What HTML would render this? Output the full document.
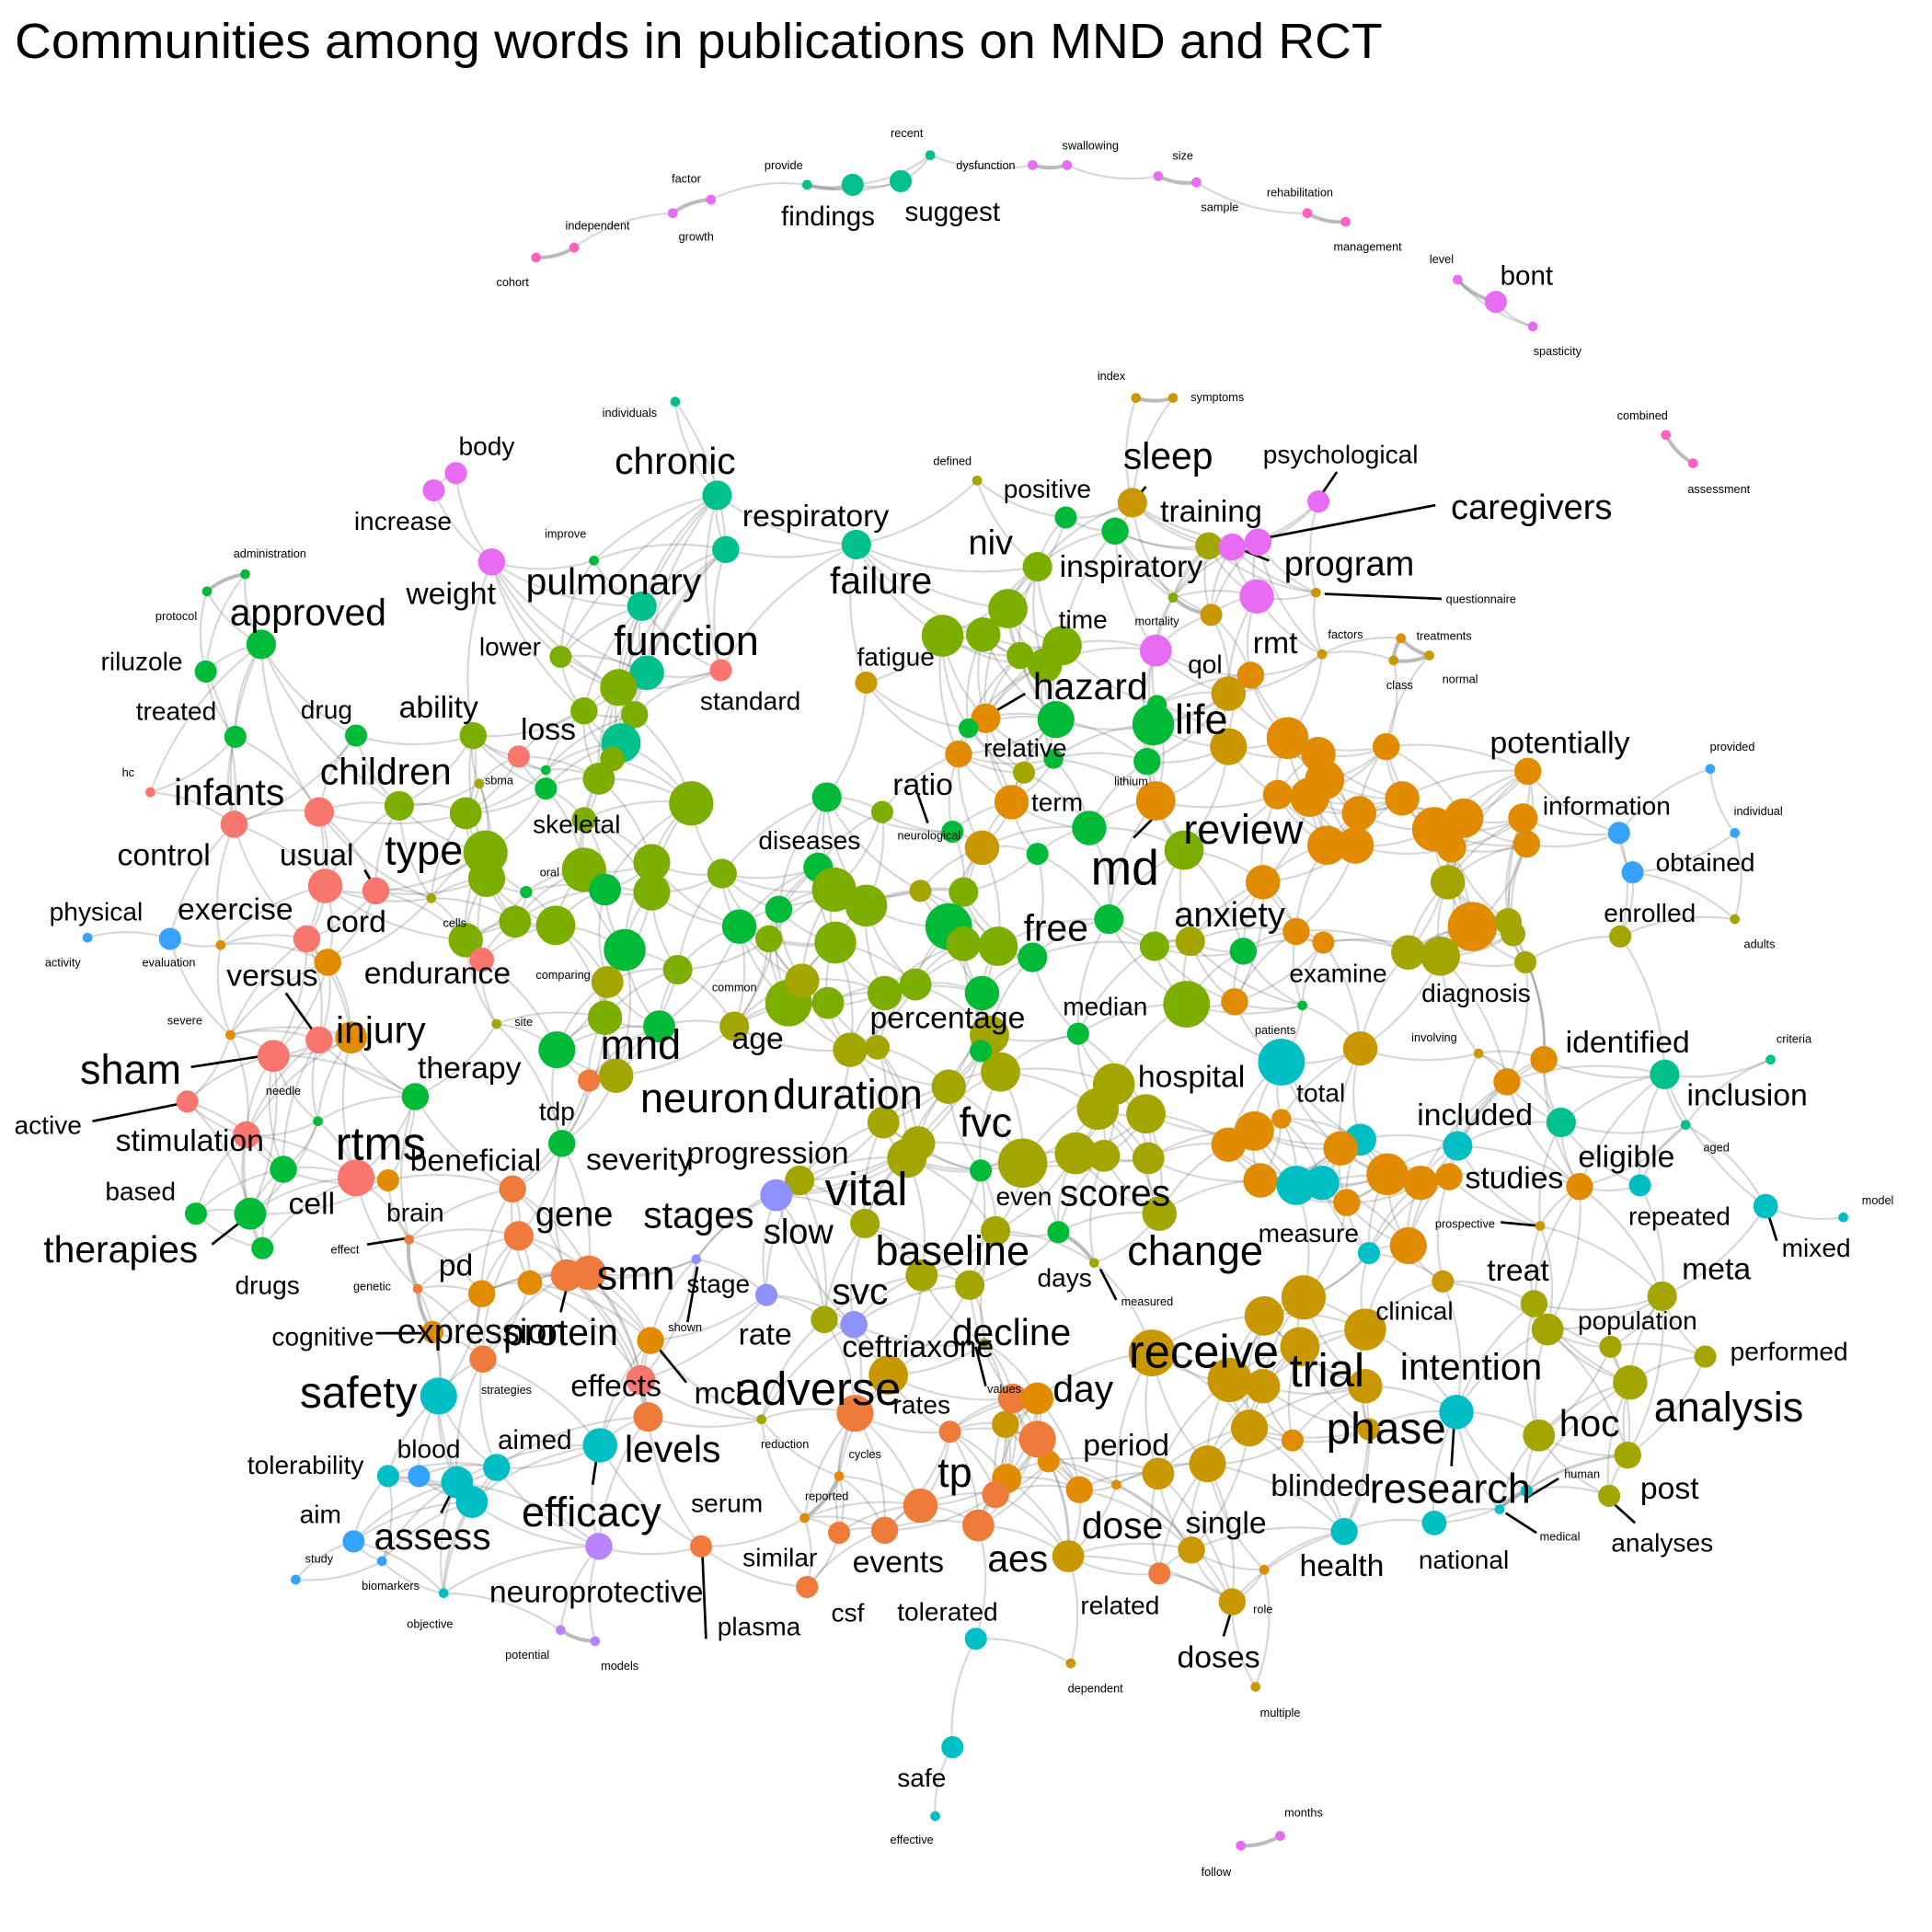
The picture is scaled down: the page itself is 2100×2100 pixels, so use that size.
<!DOCTYPE html>
<html><head><meta charset="utf-8"><style>
html,body{margin:0;padding:0;background:#fff}
svg{display:block}
text{font-family:"Liberation Sans",Arial,sans-serif;fill:#000}
</style></head><body>
<svg id="chart" width="2100" height="2100" viewBox="0 0 1568 1568" xmlns="http://www.w3.org/2000/svg">
<rect width="1568" height="1568" fill="#fff"/>
<text x="12" y="47" font-size="40" textLength="1110" lengthAdjust="spacingAndGlyphs">Communities among words in publications on MND and RCT</text>
<g id="edges"></g>
<g id="leaders"></g>
<g id="nodes"></g>
<g id="labels"></g>
</svg>
<script>
const palette = {s:"#F8766D",r:"#EE7A3C",o:"#E08B00",m:"#C99800",l:"#A3A500",y:"#7CAE00",g:"#00BA38",t:"#00C08B",c:"#00BFC4",b:"#35A2FF",u:"#8F91FF",p:"#B983FF",k:"#E76BF3",n:"#FF62BC"};
const nodeTable = [
[655,150,4,'t'],[692,150,9,'t'],[731,147,9,'t'],[755,126,4,'t'],
[577,162,4,'k'],[546,173,4,'k'],[435,209,4,'n'],[466,201,4,'n'],
[838,134,4,'k'],[866,134,4,'k'],[940,143,4,'k'],[971,148,4,'k'],[1061,173,4,'n'],[1092,180,4,'n'],
[1183,227,4,'k'],[1214,245,9,'k'],[1244,265,4,'k'],[922,323,4,'m'],[952,323,4,'m'],[1352,353,4,'n'],[1374,376,4,'n'],
[548,326,4,'t'],[370,384,9,'k'],[352,398,9,'k'],[399,456,11,'k'],[582,402,12,'t'],[589,446,11,'t'],[695,442,12,'t'],
[482,455,4,'g'],[521,492,12,'t'],[525,546,14,'t'],[199,466,4,'g'],[168,480,4,'g'],[212,523,12,'g'],[167,545,9,'g'],
[191,598,9,'g'],[289,597,9,'g'],[585,544,9,'s'],[703,554,9,'m'],[793,390,4,'l'],[865,420,9,'g'],[905,431,11,'g'],
[919,408,12,'m'],[842,460,12,'y'],[981,443,11,'l'],[1000,444,11,'k'],[1021,440,11,'k'],[1020,484,14,'k'],[1070,407,9,'k'],
[1068,481,4,'m'],[952,485,4,'y'],[983,499,9,'m'],[938,528,13,'k'],[1015,548,11,'o'],[1137,518,4,'o'],[1131,536,4,'m'],
[1160,532,4,'m'],[1073,531,4,'m'],
[765,516,17,'y'],[798,515,14,'y'],[818,494,16,'y'],[862,524,16,'y'],[828,532,11,'y'],[848,540,14,'y'],[857,584,15,'g'],
[936,588,17,'g'],[997,563,14,'m'],[800,583,12,'o'],[786,591,8,'g'],[778,612,11,'o'],[831,627,9,'l'],[821,651,14,'o'],
[938,650,16,'o'],[931,618,11,'g'],[939,572,8,'g'],[997,606,15,'m'],[1045,599,17,'o'],[1070,612,14,'o'],[1075,633,16,'o'],
[1037,645,12,'o'],[1063,647,16,'o'],[1125,606,11,'o'],[1103,660,14,'o'],[1138,648,14,'o'],[1077,686,16,'o'],[1100,686,15,'o'],
[1164,673,18,'o'],[1188,664,16,'o'],[1178,688,12,'o'],[1236,664,12,'o'],[1239,685,11,'o'],[1240,626,11,'o'],[1175,716,14,'l'],
[1195,752,20,'o'],[1224,748,11,'l'],[1228,758,10,'l'],[1143,773,14,'l'],[1169,776,16,'l'],[1238,781,9,'l'],[1052,756,11,'o'],
[1074,765,9,'o'],[1025,716,14,'o'],[961,690,16,'y'],[900,746,12,'g'],[884,672,14,'g'],[842,693,9,'g'],[855,616,8,'g'],
[797,688,14,'m'],[782,724,12,'y'],[747,723,9,'l'],[773,675,9,'g'],[716,659,9,'y'],[671,647,12,'g'],[561,652,18,'y'],
[474,665,10,'y'],[378,660,13,'y'],[324,654,12,'y'],[384,597,11,'y'],[421,614,9,'s'],[443,640,9,'g'],[455,533,9,'y'],
[474,577,11,'y'],[502,558,15,'y'],[515,580,11,'y'],[504,603,16,'t'],[497,616,10,'y'],[486,632,13,'y'],[394,692,18,'y'],
[395,713,15,'y'],[474,706,18,'y'],[491,722,13,'g'],[529,700,15,'y'],[529,724,15,'y'],[586,709,12,'y'],[664,704,12,'g'],
[677,722,18,'y'],[703,735,17,'y'],[632,738,11,'g'],[600,752,14,'g'],[624,762,11,'y'],[678,765,17,'y'],[770,752,19,'g'],
[782,766,14,'y'],[810,768,16,'y'],[838,777,12,'g'],[937,768,12,'y'],[966,764,12,'l'],[1009,772,11,'g'],[963,815,19,'y'],
[1002,813,11,'o'],[875,839,9,'g'],[797,806,14,'g'],[803,840,16,'l'],[743,799,13,'y'],[718,806,14,'y'],[640,814,19,'y'],
[651,796,14,'l'],[672,814,13,'y'],[596,833,12,'l'],[550,787,12,'y'],[507,771,17,'g'],[493,797,13,'l'],[491,826,14,'y'],
[535,833,13,'g'],[452,852,15,'g'],[418,748,13,'y'],[451,751,16,'y'],[378,763,14,'y'],[391,779,10,'s'],[427,724,5,'g'],
[350,729,4,'l'],[389,636,4,'l'],[443,625,4,'g'],
[1040,862,19,'c'],[1104,851,14,'m'],[1253,860,11,'o'],[1223,878,11,'o'],[1200,855,4,'m'],[1351,872,12,'t'],[1267,911,12,'t'],
[1437,860,4,'t'],[1368,913,4,'t'],[1183,930,12,'c'],[1104,925,13,'c'],[1040,908,8,'o'],[997,929,14,'o'],[1018,918,16,'o'],
[1023,958,14,'o'],[1052,962,16,'c'],[1073,960,14,'c'],[1088,932,14,'o'],[1093,976,11,'o'],[1126,953,17,'o'],[1153,960,14,'o'],
[1176,955,11,'o'],[1282,963,11,'o'],[1331,962,9,'c'],[1433,979,10,'c'],[1496,988,4,'c'],[1250,995,4,'m'],[1143,1011,15,'o'],
[1111,1017,9,'c'],[1171,1040,9,'m'],[1245,1058,11,'l'],[1256,1079,13,'l'],[1307,1093,9,'l'],[1349,1052,12,'l'],[1384,1101,9,'l'],
[1323,1122,14,'l'],[1249,1165,13,'l'],[1321,1181,11,'l'],[1306,1214,9,'l'],[1182,1146,14,'c'],[1239,1210,5,'c'],[1217,1225,4,'c'],
[1164,1236,10,'c'],[1091,1243,11,'c'],[1108,1079,17,'m'],[1058,1053,18,'m'],[1026,1068,16,'m'],[1055,1093,16,'m'],[998,1120,18,'m'],
[1025,1125,14,'m'],[1014,1159,15,'m'],[1049,1169,9,'o'],[1108,1125,14,'m'],[935,1098,19,'m'],[980,1188,15,'m'],[940,1196,13,'m'],
[967,1258,11,'m'],[1000,1300,11,'m'],[1026,1274,4,'o'],[1019,1369,4,'m'],[869,1350,4,'m'],[867,1263,13,'m'],[941,1277,9,'r'],
[876,1209,11,'o'],[851,1186,9,'o'],[817,1200,12,'o'],[808,1213,11,'r'],[816,1156,11,'m'],[842,1168,15,'r'],[822,1135,12,'r'],
[842,1135,13,'o'],[771,1162,9,'r'],[794,1238,13,'r'],[747,1222,14,'r'],[718,1242,11,'r'],[681,1244,9,'r'],[655,1288,9,'r'],
[694,1147,15,'r'],[721,1116,16,'m'],[799,1090,4,'l'],[888,1025,4,'l'],[787,1043,12,'l'],[748,1035,13,'l'],[808,999,12,'l'],
[859,1000,9,'g'],[830,944,20,'l'],[873,936,17,'l'],[896,938,13,'l'],[932,940,13,'l'],[941,985,14,'l'],[891,900,17,'l'],
[930,904,16,'l'],[904,880,17,'l'],[812,870,16,'l'],[770,882,14,'l'],[717,911,13,'l'],[736,940,16,'l'],[745,928,14,'l'],
[690,852,14,'l'],[712,850,10,'l'],[796,950,9,'g'],[702,993,12,'l'],[669,1071,11,'l'],[649,958,12,'l'],[630,970,13,'u'],
[693,1075,11,'u'],[622,1051,9,'u'],[565,1022,4,'u'],[528,1088,11,'o'],[520,1120,12,'s'],[526,1150,12,'r'],[460,1035,13,'r'],
[478,1033,14,'r'],[430,1041,10,'o'],[421,1003,12,'r'],[416,965,11,'r'],[391,1050,11,'o'],[392,1103,11,'r'],[315,958,9,'o'],
[332,1006,4,'r'],[339,1046,4,'r'],[351,1081,9,'o'],[289,956,15,'s'],[222,857,13,'s'],[259,844,11,'s'],[285,842,13,'o'],
[152,894,9,'s'],[200,921,11,'s'],[230,949,11,'g'],[203,985,13,'g'],[159,985,9,'g'],[213,1013,9,'g'],[258,910,4,'g'],
[337,890,11,'g'],[456,928,11,'g'],[478,877,9,'r'],[500,873,14,'l'],[249,762,11,'s'],[266,781,11,'o'],[264,719,14,'s'],
[305,723,11,'s'],[259,659,12,'s'],[190,669,11,'s'],[122,643,4,'s'],[138,762,9,'b'],[179,767,4,'o'],[71,761,4,'b'],
[187,840,4,'o'],[403,831,4,'l'],[356,1133,15,'c'],[315,1198,9,'c'],[340,1198,9,'b'],[371,1203,13,'c'],[383,1219,13,'c'],
[403,1191,11,'c'],[487,1173,14,'c'],[486,1255,11,'p'],[287,1251,9,'b'],[240,1282,4,'b'],[310,1267,4,'b'],[360,1293,4,'c'],
[455,1323,4,'p'],[483,1332,4,'p'],[569,1255,9,'r'],[653,1232,4,'o'],[681,1198,4,'o'],[618,1152,4,'l'],[792,1330,9,'c'],
[773,1418,9,'c'],[759,1474,4,'c'],[1007,1498,4,'k'],[1039,1490,4,'k'],[1315,760,9,'l'],[1408,746,4,'l'],[1314,676,9,'b'],
[1325,708,9,'b'],[1388,624,4,'b'],[1408,676,4,'b'],[1057,816,4,'g'],[796,853,9,'g'],[906,1205,4,'o'],[1111,1160,9,'m']
];
const nodeX = nodeTable.map(n=>n[0]);
const nodeY = nodeTable.map(n=>n[1]);
const nodeR = nodeTable.map(n=>n[2]);
const nodeC = nodeTable.map(n=>n[3]);
const labelText = ["findings","suggest","recent","provide","factor","growth","independent","cohort","dysfunction","swallowing","size","sample","rehabilitation","management","level","bont","spasticity","index","symptoms","combined","assessment","individuals","body","chronic","defined","positive","sleep","psychological","increase","respiratory","training","caregivers","improve","administration","niv","inspiratory","program","weight","pulmonary","failure","questionnaire","approved","protocol","time","mortality","lower","function","fatigue","rmt","factors","treatments","riluzole","qol","class","normal","standard","treated","drug","ability","hazard","life","loss","potentially","relative","provided","hc","children","sbma","lithium","ratio","infants","term","information","individual","skeletal","diseases","neurological","review","control","usual","type","obtained","md","oral","physical","exercise","cord","cells","free","anxiety","enrolled","activity","evaluation","versus","endurance","comparing","examine","diagnosis","adults","common","median","percentage","site","severe","injury","mnd","age","patients","involving","identified","criteria","sham","therapy","hospital","needle","neuron","duration","total","inclusion","active","stimulation","tdp","fvc","included","rtms","beneficial","severity","progression","eligible","aged","vital","studies","based","even","scores","cell","brain","gene","stages","slow","model","repeated","therapies","prospective","measure","change","mixed","effect","baseline","pd","smn","stage","days","treat","meta","drugs","genetic","svc","measured","clinical","population","cognitive","expression","protein","shown","rate","ceftriaxone","decline","receive","trial","intention","performed","safety","strategies","effects","mcl","adverse","rates","values","day","analysis","phase","hoc","tolerability","blood","aimed","levels","reduction","cycles","tp","period","blinded","research","human","post","reported","serum","efficacy","aim","dose","single","assess","medical","analyses","study","similar","events","aes","health","national","biomarkers","neuroprotective","related","role","csf","tolerated","objective","plasma","potential","models","doses","dependent","multiple","safe","effective","months","follow"];
const labelX = [672,773,736,636,557,565,485,416,800,885,960,990,1055,1110,1170,1239,1264,902,988,1333,1395,511,395,548,773,850,948,1088,327,662,983,1243,459,219,804,918,1095,366,498,715,1202,250,143,879,939,414,557,727,1035,1092,1172,115,978,1136,1185,609,143,265,356,885,975,445,1266,832,1406,104,313,405,918,749,186,858,1304,1427,468,657,754,1009,133,257,344,1384,913,446,78,191,289,369,857,998,1339,51,137,221,355,457,1086,1198,1428,596,897,769,425,150,309,520,615,1035,1164,1321,1456,106,381,967,230,572,688,1072,1418,39,154,452,800,1197,309,386,519,623,1320,1393,703,1229,114,831,905,253,337,466,567,648,1524,1363,98,1189,1062,970,1474,280,773,370,516,583,864,1232,1393,217,302,698,931,1148,1329,262,391,455,556,621,745,821,977,1077,1194,1452,291,411,500,583,664,748,815,879,1403,1125,1290,248,348,434,546,637,702,775,914,1072,1177,1284,1355,671,590,480,260,911,995,351,1266,1349,259,633,729,826,1089,1188,317,484,909,1025,688,769,349,616,428,503,989,889,1039,748,740,1058,987];
const labelY = [176,172,108,134,145,192,183,229,134,118,126,168,156,200,210,224,285,305,322,337,397,335,362,374,374,397,370,369,423,419,415,412,433,449,441,460,458,482,472,471,486,497,500,503,504,525,520,533,522,515,516,537,539,556,551,569,577,576,574,557,584,592,603,607,606,627,626,633,634,637,643,651,654,658,669,682,678,673,694,694,690,700,705,708,740,738,748,749,753,743,741,781,781,792,790,791,790,806,766,801,817,826,829,828,836,848,843,836,842,846,843,868,867,874,885,891,888,887,889,913,926,902,911,905,928,942,941,936,939,931,965,956,967,971,968,977,984,986,986,1000,974,987,1014,993,1001,1015,1013,1014,1015,1027,1035,1042,1037,1031,1030,1043,1044,1048,1056,1064,1072,1085,1081,1081,1077,1083,1093,1081,1097,1112,1109,1097,1131,1128,1125,1131,1127,1140,1127,1127,1142,1160,1155,1189,1176,1169,1176,1172,1180,1195,1173,1206,1208,1196,1208,1214,1220,1227,1229,1238,1236,1247,1247,1252,1265,1264,1268,1265,1271,1266,1287,1292,1303,1306,1309,1308,1318,1320,1343,1352,1345,1370,1390,1443,1493,1471,1519];
const labelSize = [21,21,9,9,9,9,9,9,9,9,9,9,9,9,9,21,9,9,9,9,9,9,20,29,9,20,29,20,20,24,24,27,9,9,27,24,27,24,29,29,9,29,9,20,9,20,32,20,24,9,9,20,20,9,9,20,20,20,24,29,32,24,24,20,9,9,29,9,9,24,29,20,20,9,20,20,9,32,24,24,32,20,38,9,20,24,24,9,29,27,20,9,9,24,24,9,20,20,9,9,20,24,9,9,29,32,24,9,9,24,9,32,24,24,9,32,32,20,24,20,24,20,32,24,36,24,24,24,24,9,36,24,20,20,29,24,20,27,29,27,9,20,29,9,20,32,20,9,32,24,32,20,20,24,24,20,9,29,9,20,20,20,27,29,9,24,24,29,36,36,29,20,34,9,24,24,36,20,9,29,32,34,29,20,20,21,29,9,9,32,24,24,32,9,24,9,20,32,20,29,24,29,9,20,9,20,24,29,24,20,9,24,20,9,20,20,9,20,9,9,24,9,9,20,9,9,9];
const leaderLines = [[155,866,220,856],[75,910,150,895],[172,1010,200,988],[232,806,258,842],[1165,410,1025,437],[1030,455,1005,445],[1075,482,1170,486],[1085,383,1070,405],[832,563,803,580],[745,645,753,668],[935,665,920,680],[1218,992,1250,995],[1435,985,1442,1007],[893,1030,906,1055],[792,1093,800,1125],[531,1090,557,1122],[460,1045,455,1065],[566,1028,558,1073],[305,1082,355,1082],[298,1010,330,1005],[485,1178,481,1205],[367,1210,358,1228],[570,1260,573,1330],[1000,1305,993,1328],[1180,1158,1178,1190],[1240,1215,1265,1200],[1222,1228,1247,1244],[1307,1218,1327,1236],[930,395,919,408],[296,706,305,722]];
const svgNS = "http://www.w3.org/2000/svg";
const eg = document.getElementById('edges'), lg = document.getElementById('leaders'), ng = document.getElementById('nodes'), tg = document.getElementById('labels');
const N = nodeX.length;
const seen = new Set();
for (let i = 0; i < N; i++) {
  const d = [];
  for (let j = 0; j < N; j++) if (j !== i) d.push([Math.hypot(nodeX[i]-nodeX[j], nodeY[i]-nodeY[j]), j]);
  d.sort((a,b)=>a[0]-b[0]);
  const big = nodeR[i] > 10;
  const k = big ? 9 : 3;
  for (let q = 0; q < k; q++) {
    const [dist, j] = d[q];
    if (dist > (big ? 260 : 100)) break;
    const key = Math.min(i,j)+'-'+Math.max(i,j);
    if (seen.has(key)) continue; seen.add(key);
    const mx = (nodeX[i]+nodeX[j])/2, my = (nodeY[i]+nodeY[j])/2;
    const nx = -(nodeY[j]-nodeY[i])*0.15, ny = (nodeX[j]-nodeX[i])*0.15;
    const p = document.createElementNS(svgNS,'path');
    p.setAttribute('d', `M${nodeX[i]},${nodeY[i]} Q${mx+nx},${my+ny} ${nodeX[j]},${nodeY[j]}`);
    p.setAttribute('fill','none');
    const pair = dist < 45 && nodeR[i] < 6;
    p.setAttribute('stroke', pair ? 'rgba(170,170,170,0.8)' : 'rgba(110,110,110,0.28)');
    p.setAttribute('stroke-width', pair ? '3' : '1.6');
    
    
    eg.appendChild(p);
  }
}
leaderLines.forEach(l => {
  const ln = document.createElementNS(svgNS,'line');
  ln.setAttribute('x1',l[0]); ln.setAttribute('y1',l[1]); ln.setAttribute('x2',l[2]); ln.setAttribute('y2',l[3]);
  ln.setAttribute('stroke','#000'); ln.setAttribute('stroke-width','2');
  
  
  lg.appendChild(ln);
});
for (let i = 0; i < N; i++) {
  const c = document.createElementNS(svgNS,'circle');
  c.setAttribute('cx', nodeX[i]); c.setAttribute('cy', nodeY[i]); c.setAttribute('r', nodeR[i]);
  c.setAttribute('fill', palette[nodeC[i]] || '#7CAE00');
  
  
  ng.appendChild(c);
}
for (let i = 0; i < labelText.length; i++) {
  const t = document.createElementNS(svgNS,'text');
  t.setAttribute('x', labelX[i]); t.setAttribute('y', labelY[i]);
  t.setAttribute('font-size', (labelSize[i] * 1.05).toFixed(1));
  t.setAttribute('text-anchor','middle');
  t.setAttribute('dominant-baseline','central');
  t.textContent = labelText[i];
  
  
  tg.appendChild(t);
}
</script>
</body></html>
